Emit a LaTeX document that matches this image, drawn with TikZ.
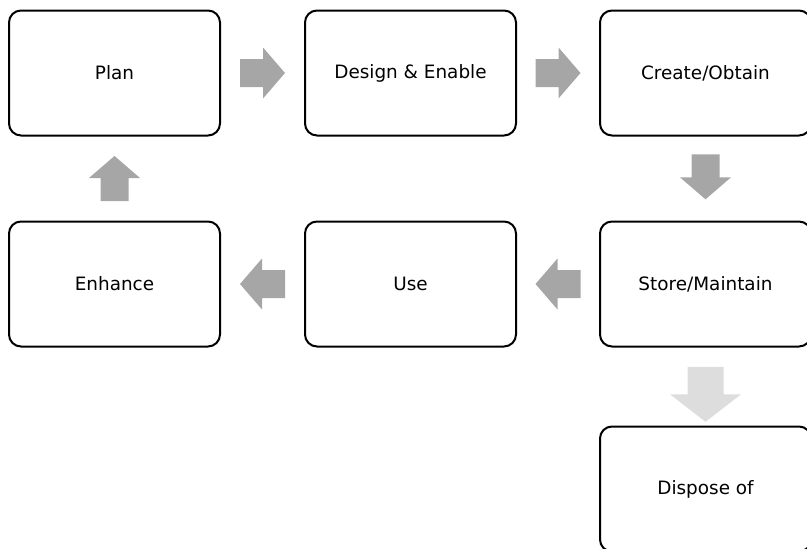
\documentclass[tikz,border=0pt]{standalone}
\usepackage{fontspec}
\setmainfont{DejaVu Sans}
\usetikzlibrary{calc}
\definecolor{arrowgray}{HTML}{A6A6A6}
\definecolor{arrowlight}{HTML}{DDDDDD}
\tikzset{
  stage/.style={draw=black, line width=2pt, rounded corners=12pt, fill=white,
    minimum width=211pt, minimum height=125pt, inner sep=0pt,
    font=\fontsize{18.4}{22}\selectfont},
  % block arrow pointing along +x, centred on its placement point
  blockarr/.pic={\fill[pic actions] (-22.5,-14) -- (0.5,-14) -- (0.5,-25.5) -- (22.5,0)
      -- (0.5,25.5) -- (0.5,14) -- (-22.5,14) -- cycle;},
  bigblockarr/.pic={\fill[pic actions] (-27.5,-18) -- (0,-18) -- (0,-35.5) -- (27.5,0)
      -- (0,35.5) -- (0,18) -- (-27.5,18) -- cycle;},
}
\begin{document}
\begin{tikzpicture}[x=1pt, y=-1pt]
  \useasboundingbox (0,0) rectangle (807,549);
  \clip (0,0) rectangle (807,549);

  % stages of the cycle
  \node[stage] (plan)    at (114.5,73)  {Plan};
  \node[stage] (design)  at (410.5,73)  {Design \& Enable};
  \node[stage] (create)  at (705.5,73)  {Create/Obtain};
  \node[stage] (store)   at (705.5,284) {Store/Maintain};
  \node[stage] (use)     at (410.5,284) {Use};
  \node[stage] (enhance) at (114.5,284) {Enhance};
  \node[stage] (dispose) at (705.5,489) {Dispose of};

  % block arrows between the stages
  \pic[fill=arrowgray] at ($(plan.east)!0.5!(design.west)$) {blockarr};
  \pic[fill=arrowgray] at ($(design.east)!0.5!(create.west)$) {blockarr};
  \pic[fill=arrowgray, rotate=-90] at ($(create.south)!0.48!(store.north)$) {blockarr};
  \pic[fill=arrowgray, rotate=180] at ($(store.west)!0.5!(use.east)$) {blockarr};
  \pic[fill=arrowgray, rotate=180] at ($(use.west)!0.5!(enhance.east)$) {blockarr};
  \pic[fill=arrowgray, rotate=90] at ($(enhance.north)!0.5!(plan.south)$) {blockarr};
  \pic[fill=arrowlight, rotate=-90] at ($(store.south)!0.6!(dispose.north)$) {bigblockarr};
\end{tikzpicture}
\end{document}
